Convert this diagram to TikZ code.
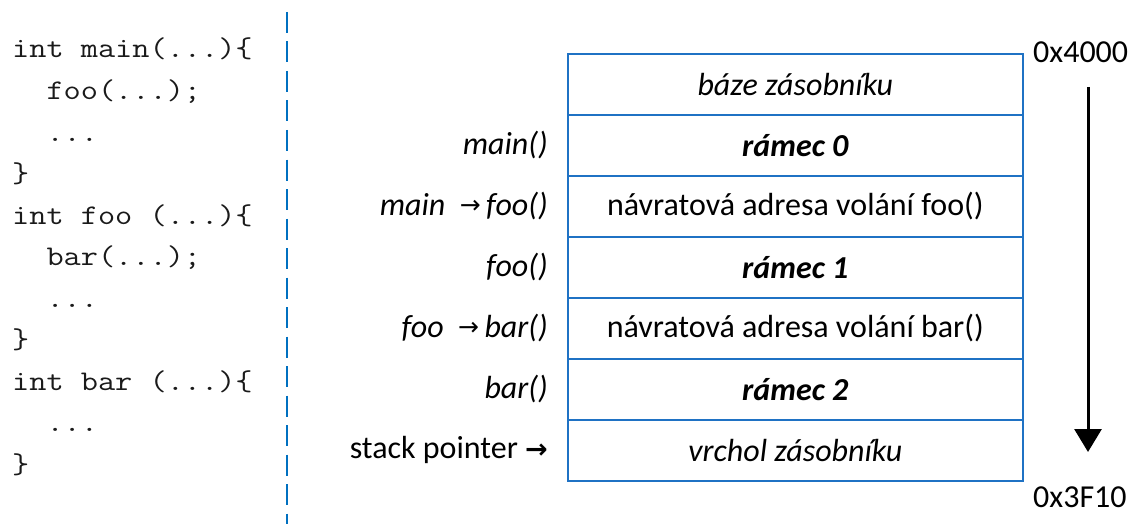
\documentclass[tikz,border=0pt]{standalone}
\usepackage{fontspec}
\setmainfont{Carlito}
\newfontfamily\symfont{DejaVu Sans}
\usetikzlibrary{arrows.meta}
\definecolor{stackblue}{HTML}{1F72C4}
\definecolor{divblue}{HTML}{0070C0}
\definecolor{codegray}{HTML}{1A1A1A}
\newcommand{\callarrow}{{\symfont\fontsize{25}{28}\selectfont\raisebox{2pt}{→}}}
\newcommand{\sparrow}{{\symfont\bfseries\fontsize{27}{30}\selectfont →}}
\newcommand{\codeline}[1]{\scalebox{1.17}[1]{\ttfamily\fontsize{28.5}{32}\selectfont #1}}
\begin{document}
\begin{tikzpicture}[x=1pt,y=-1pt,
  cell/.style={draw=stackblue,line width=1.6pt,minimum width=455pt,minimum height=61pt,
    inner sep=0pt,anchor=north west,font=\fontsize{32}{36}\selectfont},
  lab/.style={anchor=east,inner sep=0pt,font=\fontsize{32}{36}\selectfont},
  code/.style={anchor=base west,inner sep=0pt,text=codegray},
  addr/.style={anchor=west,inner sep=0pt,font=\fontsize{32}{36}\selectfont}
]
\useasboundingbox (0,0) rectangle (1129,524);

% source code
\node[code] (c1)  at (12,58)    {\codeline{int main(...)\{}};
\node[code] (c2)  at (12,99.5)  {\codeline{\ \ foo(...);}};
\node[code] (c3)  at (12,141)   {\codeline{\ \ ...}};
\node[code] (c4)  at (12,182.5) {\codeline{\}}};
\node[code] (c5)  at (12,224)   {\codeline{int foo (...)\{}};
\node[code] (c6)  at (12,265.5) {\codeline{\ \ bar(...);}};
\node[code] (c7)  at (12,307)   {\codeline{\ \ ...}};
\node[code] (c8)  at (12,348.5) {\codeline{\}}};
\node[code] (c9)  at (12,390)   {\codeline{int bar (...)\{}};
\node[code] (c10) at (12,431.5) {\codeline{\ \ ...}};
\node[code] (c11) at (12,473)   {\codeline{\}}};

% divider
\coordinate (dtop) at (287,12);
\coordinate (dbot) at (287,524);
\draw[divblue,line width=2.4pt,dash pattern=on 21pt off 8.5pt] (dtop) -- (dbot);

% stack cells
\node[cell] (s0) at (567,53)  {\itshape báze zásobníku};
\node[cell] (s1) at (567,114) {\bfseries\itshape rámec 0};
\node[cell] (s2) at (567,175) {návratová adresa volání foo()};
\node[cell] (s3) at (567,236) {\bfseries\itshape rámec 1};
\node[cell] (s4) at (567,297) {návratová adresa volání bar()};
\node[cell] (s5) at (567,358) {\bfseries\itshape rámec 2};
\node[cell] (s6) at (567,419) {\itshape vrchol zásobníku};

% labels on the left
\node[lab] (l1) at ([xshift=-19pt]s1.west) {\itshape main()};
\node[lab] (l2) at ([xshift=-19pt]s2.west) {\itshape main\ \ \callarrow\,foo()};
\node[lab] (l3) at ([xshift=-19pt]s3.west) {\itshape foo()};
\node[lab] (l4) at ([xshift=-19pt]s4.west) {\itshape foo\ \ \callarrow\,bar()};
\node[lab] (l5) at ([xshift=-19pt]s5.west) {\itshape bar()};
\node[lab] (l6) at ([xshift=-19pt]s6.west) {stack pointer \sparrow};

% addresses and growth direction
\node[addr] (a0) at (1033,52)  {0x4000};
\node[addr] (a1) at (1033,497) {0x3F10};
\coordinate (gtop) at (1088,87);
\coordinate (gbot) at (1088,452);
\draw[line width=3pt,-{Triangle[width=27pt,length=23pt]}] (gtop) -- (gbot);
\end{tikzpicture}
\end{document}
